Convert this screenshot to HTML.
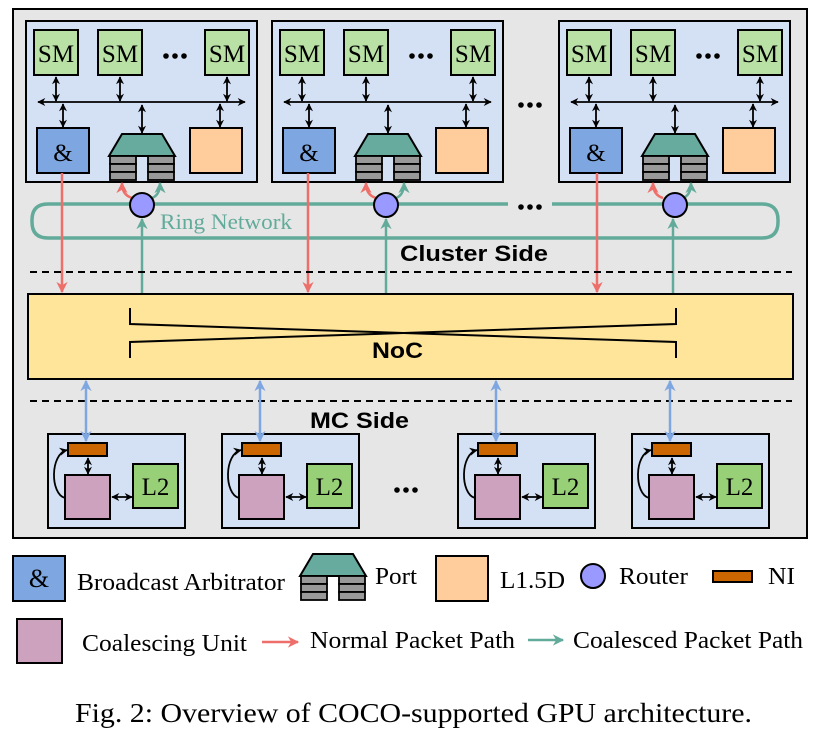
<!DOCTYPE html>
<html><head><meta charset="utf-8"><style>
html,body{margin:0;padding:0;background:#fff;}
svg{display:block;}
.s{font-family:"Liberation Serif",serif;}
.b{font-family:"Liberation Sans",sans-serif;font-weight:bold;}
</style></head><body>
<svg width="827" height="731" viewBox="0 0 827 731" xmlns="http://www.w3.org/2000/svg">
<defs>
<marker id="ak" viewBox="0 0 10 10" refX="9" refY="5" markerWidth="4.5" markerHeight="4.5" orient="auto-start-reverse"><path d="M0,0 L10,5 L0,10 L3,5 z" fill="#000"/></marker>
<marker id="ar" viewBox="0 0 10 10" refX="9" refY="5" markerWidth="4.5" markerHeight="4.5" orient="auto-start-reverse"><path d="M0,0 L10,5 L0,10 L3,5 z" fill="#ee6e6a"/></marker>
<marker id="at" viewBox="0 0 10 10" refX="9" refY="5" markerWidth="4.5" markerHeight="4.5" orient="auto-start-reverse"><path d="M0,0 L10,5 L0,10 L3,5 z" fill="#62ab9a"/></marker>
<marker id="ab" viewBox="0 0 10 10" refX="9" refY="5" markerWidth="4.5" markerHeight="4.5" orient="auto-start-reverse"><path d="M0,0 L10,5 L0,10 L3,5 z" fill="#7ea6e0"/></marker>
<g id="dots"><circle cx="-9" cy="0" r="2.8"/><circle cx="0" cy="0" r="2.8"/><circle cx="9" cy="0" r="2.8"/></g>
<g id="port">
<polygon points="-20,0 20,0 33,22 -33,22" fill="#67ab9f" stroke="#000" stroke-width="2"/>
<g fill="#999" stroke="#000" stroke-width="1.8">
<rect x="-32" y="22" width="26" height="8"/><rect x="-32" y="30" width="26" height="8"/><rect x="-32" y="38" width="26" height="8"/>
<rect x="6" y="22" width="26" height="8"/><rect x="6" y="30" width="26" height="8"/><rect x="6" y="38" width="26" height="8"/>
</g>
</g>
<g id="cl">
<rect x="0" y="0" width="231" height="161" fill="#d4e1f4" stroke="#000" stroke-width="2"/>
<g fill="#b9e0a5" stroke="#000" stroke-width="2">
<rect x="8" y="9" width="44" height="45"/><rect x="72" y="9" width="44" height="45"/><rect x="179" y="9" width="44" height="45"/>
</g>
<g class="s" font-size="25" text-anchor="middle"><text x="30" y="41">SM</text><text x="94" y="41">SM</text><text x="201" y="41">SM</text></g>
<use href="#dots" x="149" y="35"/>
<g stroke="#000" stroke-width="1.8" fill="none">
<line x1="12" y1="81" x2="219" y2="81" marker-start="url(#ak)" marker-end="url(#ak)"/>
<line x1="30" y1="56" x2="30" y2="80" marker-start="url(#ak)" marker-end="url(#ak)"/>
<line x1="94" y1="56" x2="94" y2="80" marker-start="url(#ak)" marker-end="url(#ak)"/>
<line x1="201" y1="56" x2="201" y2="80" marker-start="url(#ak)" marker-end="url(#ak)"/>
<line x1="37" y1="83" x2="37" y2="106" marker-start="url(#ak)" marker-end="url(#ak)"/>
<line x1="116" y1="84" x2="116" y2="112" marker-start="url(#ak)" marker-end="url(#ak)"/>
<line x1="194" y1="83" x2="194" y2="106" marker-start="url(#ak)" marker-end="url(#ak)"/>
</g>
<rect x="11" y="107" width="52" height="45" fill="#7ea6e0" stroke="#000" stroke-width="2"/>
<text x="37" y="140" class="s" font-size="25" text-anchor="middle">&amp;</text>
<rect x="164" y="107" width="52" height="45" fill="#ffcd9c" stroke="#000" stroke-width="2"/>
<use href="#port" x="116" y="113"/>
</g>
<g id="mc">
<rect x="0" y="0" width="137" height="94" fill="#d4e1f4" stroke="#000" stroke-width="2"/>
<rect x="20" y="9" width="39" height="13" fill="#cc6600" stroke="#000" stroke-width="2"/>
<rect x="17" y="41" width="45" height="44" fill="#cda2be" stroke="#000" stroke-width="2"/>
<rect x="85" y="30" width="45" height="44" fill="#97d077" stroke="#000" stroke-width="2"/>
<text x="107.5" y="61" class="s" font-size="25" text-anchor="middle">L2</text>
<g stroke="#000" stroke-width="1.8" fill="none">
<line x1="40" y1="24" x2="40" y2="40" marker-start="url(#ak)" marker-end="url(#ak)"/>
<line x1="64" y1="63" x2="84" y2="63" marker-start="url(#ak)" marker-end="url(#ak)"/>
<path d="M17,64 C2,60 2,20 19,16" marker-end="url(#ak)"/>
</g>
</g>
</defs>

<rect x="13" y="9" width="794" height="529" fill="#e6e6e6" stroke="#000" stroke-width="2"/>

<path d="M508,204 L48,204 Q32,204 32,220 L32,222 Q32,238 48,238 L762,238 Q778,238 778,222 L778,220 Q778,204 762,204 L552,204" fill="none" stroke="#62ab9a" stroke-width="3.5"/>
<use href="#dots" x="530" y="207"/>
<text x="160" y="229" class="s" font-size="22" fill="#62ab9a" textLength="132" lengthAdjust="spacingAndGlyphs">Ring Network</text>

<use href="#cl" x="26" y="21"/>
<use href="#cl" x="272" y="21"/>
<use href="#cl" x="559" y="21"/>
<use href="#dots" x="530" y="105"/>

<g>
<line x1="62" y1="173" x2="62" y2="292" stroke="#ee6e6a" stroke-width="2.5" marker-end="url(#ar)"/>
<line x1="308" y1="173" x2="308" y2="292" stroke="#ee6e6a" stroke-width="2.5" marker-end="url(#ar)"/>
<line x1="597" y1="173" x2="597" y2="292" stroke="#ee6e6a" stroke-width="2.5" marker-end="url(#ar)"/>
<line x1="142" y1="294" x2="142" y2="219" stroke="#62ab9a" stroke-width="2.5" marker-end="url(#at)"/>
<line x1="386" y1="294" x2="386" y2="219" stroke="#62ab9a" stroke-width="2.5" marker-end="url(#at)"/>
<line x1="673" y1="294" x2="673" y2="219" stroke="#62ab9a" stroke-width="2.5" marker-end="url(#at)"/>
</g>
<g fill="none" stroke-width="2.5">
<path d="M132,198 Q122,195 122,183" stroke="#ee6e6a" marker-end="url(#ar)"/>
<path d="M152,198 Q160,195 160,183" stroke="#62ab9a" marker-end="url(#at)"/>
<path d="M376,198 Q366,195 366,183" stroke="#ee6e6a" marker-end="url(#ar)"/>
<path d="M396,198 Q404,195 404,183" stroke="#62ab9a" marker-end="url(#at)"/>
<path d="M663,198 Q653,195 653,183" stroke="#ee6e6a" marker-end="url(#ar)"/>
<path d="M683,198 Q691,195 691,183" stroke="#62ab9a" marker-end="url(#at)"/>
</g>
<g fill="#9999ff" stroke="#000" stroke-width="2">
<circle cx="142" cy="205" r="12"/><circle cx="386" cy="205" r="12"/><circle cx="675" cy="205" r="12"/>
</g>

<text x="400" y="261" class="b" font-size="22" textLength="148" lengthAdjust="spacingAndGlyphs">Cluster Side</text>
<line x1="30" y1="272" x2="792" y2="272" stroke="#000" stroke-width="2" stroke-dasharray="7,5"/>

<rect x="28" y="294" width="765" height="85" fill="#ffe599" stroke="#000" stroke-width="2"/>
<g stroke="#000" stroke-width="2" fill="none">
<path d="M130,308 L130,324 L676,342 L676,358"/>
<path d="M130,358 L130,342 L676,324 L676,308"/>
</g>
<text x="372" y="358" class="b" font-size="22" textLength="51" lengthAdjust="spacingAndGlyphs">NoC</text>

<line x1="30" y1="401" x2="792" y2="401" stroke="#000" stroke-width="2" stroke-dasharray="7,5"/>
<text x="310" y="428" class="b" font-size="22" textLength="99" lengthAdjust="spacingAndGlyphs">MC Side</text>

<use href="#mc" x="48" y="434"/>
<use href="#mc" x="222" y="434"/>
<use href="#mc" x="458" y="434"/>
<use href="#mc" x="632" y="434"/>
<g stroke="#7ea6e0" stroke-width="2.5">
<line x1="86" y1="381" x2="86" y2="441" marker-start="url(#ab)" marker-end="url(#ab)"/>
<line x1="260" y1="381" x2="260" y2="441" marker-start="url(#ab)" marker-end="url(#ab)"/>
<line x1="496" y1="381" x2="496" y2="441" marker-start="url(#ab)" marker-end="url(#ab)"/>
<line x1="670" y1="381" x2="670" y2="441" marker-start="url(#ab)" marker-end="url(#ab)"/>
</g>
<use href="#dots" x="406" y="490"/>

<rect x="13" y="556" width="52" height="45" fill="#7ea6e0" stroke="#000" stroke-width="2"/>
<text x="39" y="587" class="s" font-size="26" text-anchor="middle">&amp;</text>
<text x="77" y="590" class="s" font-size="24" textLength="208" lengthAdjust="spacingAndGlyphs">Broadcast Arbitrator</text>
<use href="#port" x="333" y="554"/>
<text x="375" y="584" class="s" font-size="24" textLength="42" lengthAdjust="spacingAndGlyphs">Port</text>
<rect x="436" y="556" width="52" height="45" fill="#ffcd9c" stroke="#000" stroke-width="2"/>
<text x="500" y="588" class="s" font-size="24" textLength="65" lengthAdjust="spacingAndGlyphs">L1.5D</text>
<circle cx="593" cy="576" r="12" fill="#9999ff" stroke="#000" stroke-width="2"/>
<text x="619" y="584" class="s" font-size="24" textLength="69" lengthAdjust="spacingAndGlyphs">Router</text>
<rect x="713" y="571" width="39" height="11" fill="#cc6600" stroke="#000" stroke-width="2"/>
<text x="768" y="584" class="s" font-size="24" textLength="27" lengthAdjust="spacingAndGlyphs">NI</text>

<rect x="17" y="619" width="45" height="44" fill="#cda2be" stroke="#000" stroke-width="2"/>
<text x="82" y="651" class="s" font-size="24" textLength="165" lengthAdjust="spacingAndGlyphs">Coalescing Unit</text>
<line x1="262" y1="642" x2="298" y2="642" stroke="#ee6e6a" stroke-width="2.5" marker-end="url(#ar)"/>
<text x="310" y="648" class="s" font-size="24" textLength="205" lengthAdjust="spacingAndGlyphs">Normal Packet Path</text>
<line x1="528" y1="640" x2="563" y2="640" stroke="#62ab9a" stroke-width="2.5" marker-end="url(#at)"/>
<text x="573" y="648" class="s" font-size="24" textLength="230" lengthAdjust="spacingAndGlyphs">Coalesced Packet Path</text>

<text x="75" y="722" class="s" font-size="27" textLength="677" lengthAdjust="spacingAndGlyphs">Fig. 2: Overview of COCO-supported GPU architecture.</text>
</svg>
</body></html>
